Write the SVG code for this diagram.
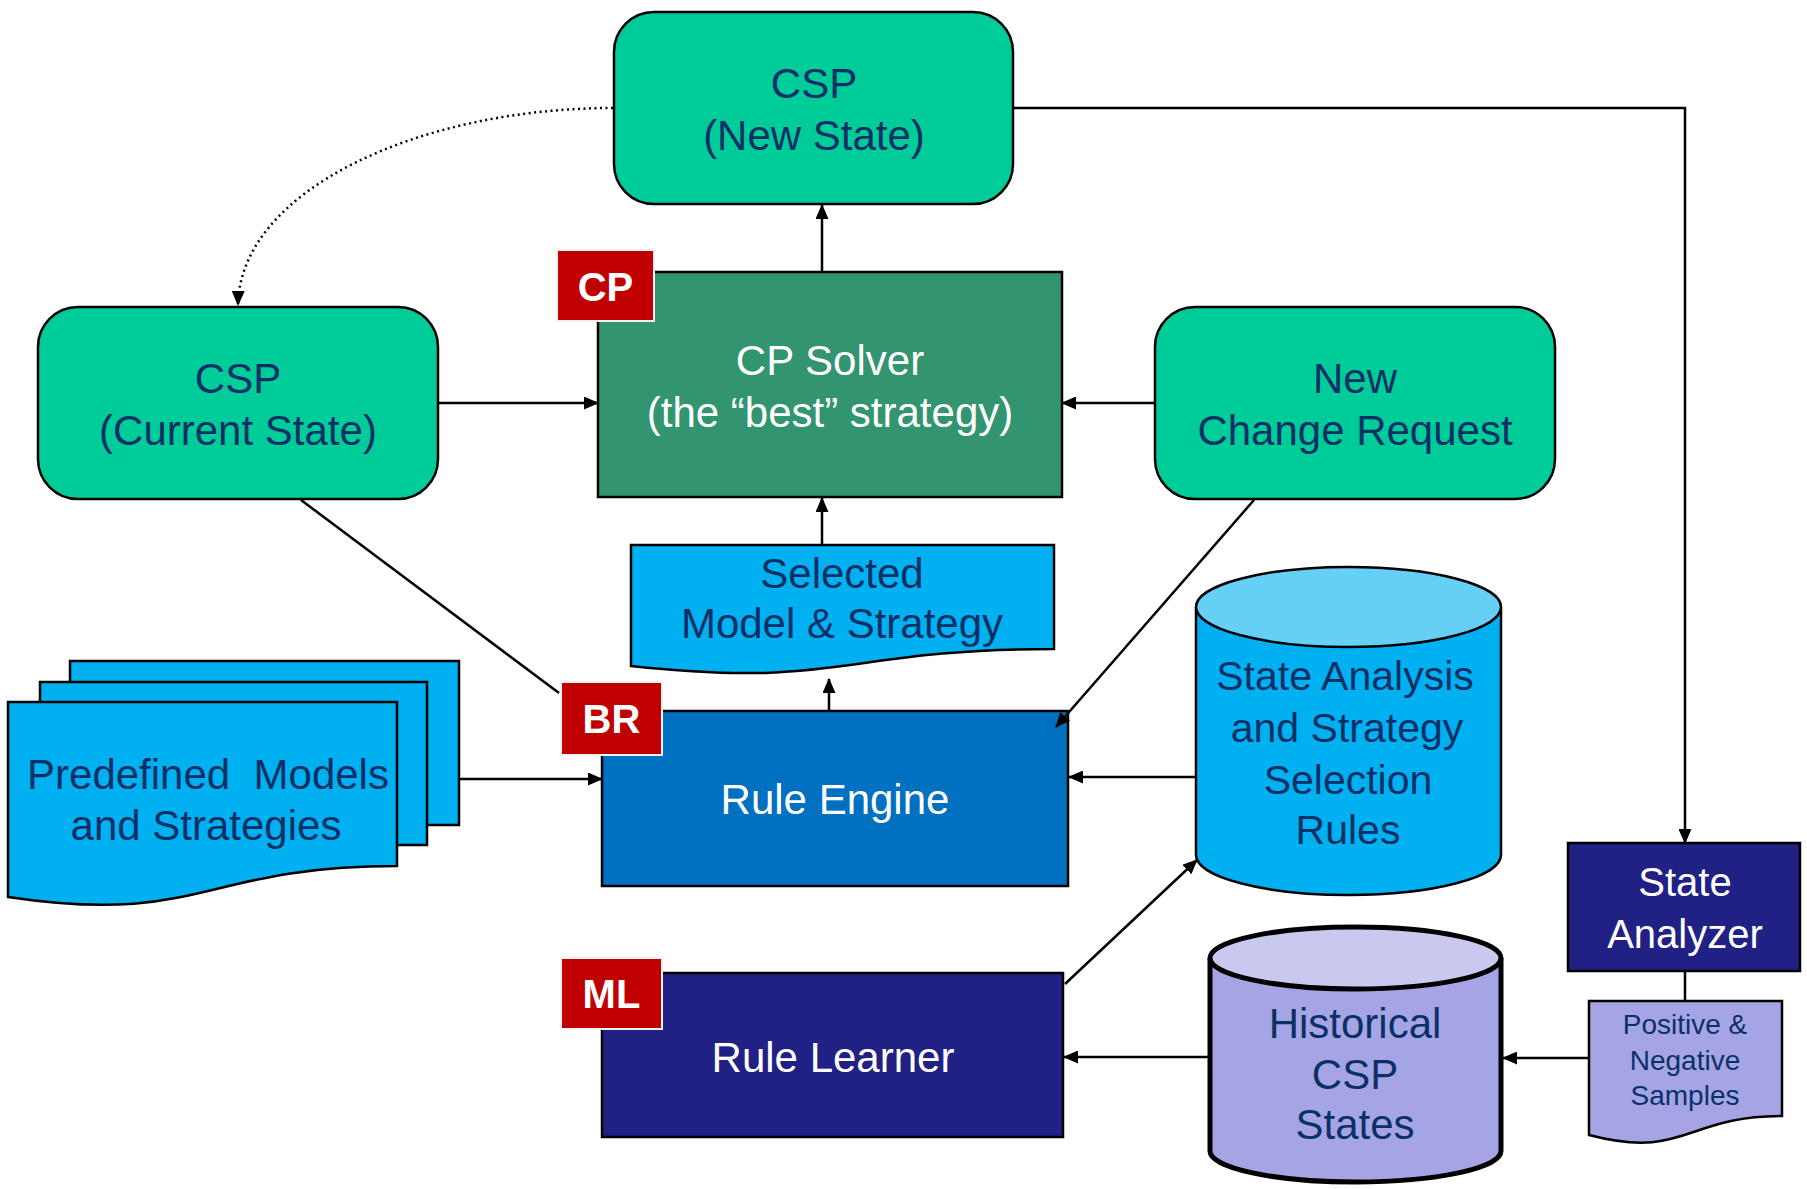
<svg xmlns="http://www.w3.org/2000/svg" width="1807" height="1189" viewBox="0 0 1807 1189">
  <defs>
    <marker id="arrow" markerUnits="userSpaceOnUse" viewBox="0 0 15 13" refX="14" refY="6.5" markerWidth="15" markerHeight="13" orient="auto">
      <path d="M0,0 L15,6.5 L0,13 z" fill="#000"/>
    </marker>
    <style>
      text { font-family: "Liberation Sans", Arial, sans-serif; text-anchor: middle; }
      .dark { fill: #0c3066; font-size: 42px; }
      .light { fill: #ffffff; font-size: 42px; }
      .badge rect { fill: #c00000; stroke: #f2f2f2; stroke-width: 2; }
      .badge text { fill: #ffffff; font-size: 40px; font-weight: bold; }
      .csp { fill: #00cc99; stroke: #000; stroke-width: 2.5; }
      .edge { fill: none; stroke: #000; stroke-width: 2.5; }
    </style>
  </defs>
  <rect width="1807" height="1189" fill="#ffffff"/>

  <!-- CSP (New State) -->
  <g id="csp-new">
    <rect class="csp" x="614" y="12" width="399" height="192" rx="40" ry="40"/>
    <text class="dark" x="814" y="98">CSP</text>
    <text class="dark" x="814" y="150">(New State)</text>
  </g>

  <!-- CSP (Current State) -->
  <g id="csp-current">
    <rect class="csp" x="38" y="307" width="400" height="192" rx="40" ry="40"/>
    <text class="dark" x="238" y="393">CSP</text>
    <text class="dark" x="238" y="445">(Current State)</text>
  </g>

  <!-- New Change Request -->
  <g id="change-request">
    <rect class="csp" x="1155" y="307" width="400" height="192" rx="40" ry="40"/>
    <text class="dark" x="1355" y="393">New</text>
    <text class="dark" x="1355" y="445">Change Request</text>
  </g>

  <!-- CP Solver -->
  <g id="cp-solver">
    <rect x="598" y="272" width="464" height="225" fill="#339470" stroke="#000" stroke-width="2.5"/>
    <text class="light" x="830" y="375">CP Solver</text>
    <text class="light" x="830" y="427">(the “best” strategy)</text>
  </g>
  <g id="badge-cp" class="badge">
    <rect x="557" y="250" width="97" height="71"/>
    <text x="605.5" y="301">CP</text>
  </g>

  <!-- Selected Model & Strategy -->
  <g id="selected-model">
    <path d="M631,545 L1054,545 L1054,649 C842,649 842,689 631,666 Z" fill="#00b0f0" stroke="#000" stroke-width="2.5"/>
    <text class="dark" x="842" y="588">Selected</text>
    <text class="dark" x="842" y="638">Model &amp; Strategy</text>
  </g>

  <!-- Predefined Models and Strategies (stacked documents) -->
  <g id="predefined">
    <rect x="70" y="661" width="389" height="164" fill="#00b0f0" stroke="#000" stroke-width="2.5"/>
    <rect x="40" y="682" width="387" height="163" fill="#00b0f0" stroke="#000" stroke-width="2.5"/>
    <path d="M8,702 L397,702 L397,866 C202,866 202,926 8,897 Z" fill="#00b0f0" stroke="#000" stroke-width="2.5"/>
    <text class="dark" x="208" y="789" xml:space="preserve" style="white-space:pre">Predefined  Models</text>
    <text class="dark" x="206" y="840">and Strategies</text>
  </g>

  <!-- Rule Engine -->
  <g id="rule-engine">
    <rect x="602" y="711" width="466" height="175" fill="#0070c0" stroke="#000" stroke-width="2.5"/>
    <text class="light" x="835" y="814">Rule Engine</text>
  </g>
  <g id="badge-br" class="badge">
    <rect x="561" y="682" width="101" height="73"/>
    <text x="611.5" y="733">BR</text>
  </g>

  <!-- State Analysis and Strategy Selection Rules -->
  <g id="selection-rules">
    <path d="M1196,607 L1196,855 A152.5,40 0 0 0 1501,855 L1501,607" fill="#00b0f0" stroke="#000" stroke-width="2.5"/>
    <ellipse cx="1348.5" cy="607" rx="152.5" ry="40" fill="#66cff5" stroke="#000" stroke-width="2.5"/>
    <text class="dark" x="1345" y="690" style="font-size:41px">State Analysis</text>
    <text class="dark" x="1347" y="742" style="font-size:41px">and Strategy</text>
    <text class="dark" x="1348" y="794" style="font-size:41px">Selection</text>
    <text class="dark" x="1348" y="844" style="font-size:41px">Rules</text>
  </g>

  <!-- Rule Learner -->
  <g id="rule-learner">
    <rect x="602" y="973" width="461" height="164" fill="#212185" stroke="#000" stroke-width="2.5"/>
    <text class="light" x="833" y="1072">Rule Learner</text>
  </g>
  <g id="badge-ml" class="badge">
    <rect x="561" y="958" width="101" height="71"/>
    <text x="611.5" y="1008">ML</text>
  </g>

  <!-- Historical CSP States -->
  <g id="historical">
    <path d="M1210,958 L1210,1151 A145.5,31 0 0 0 1501,1151 L1501,958" fill="#a5a5e6" stroke="#000" stroke-width="5"/>
    <ellipse cx="1355.5" cy="958" rx="145.5" ry="31" fill="#c9c9f0" stroke="#000" stroke-width="5"/>
    <text class="dark" x="1355" y="1038">Historical</text>
    <text class="dark" x="1355" y="1089">CSP</text>
    <text class="dark" x="1355" y="1139">States</text>
  </g>

  <!-- State Analyzer -->
  <g id="state-analyzer">
    <rect x="1568" y="843" width="232" height="128" fill="#212185" stroke="#000" stroke-width="2.5"/>
    <text class="light" x="1685" y="896" style="font-size:40px">State</text>
    <text class="light" x="1685" y="948" style="font-size:40px">Analyzer</text>
  </g>

  <!-- Positive & Negative Samples -->
  <g id="samples">
    <path d="M1589,1001 L1782,1001 L1782,1116 C1685,1116 1685,1160 1589,1135 Z" fill="#a5a5e6" stroke="#000" stroke-width="2.5"/>
    <text class="dark" x="1685" y="1034" style="font-size:28px">Positive &amp;</text>
    <text class="dark" x="1685" y="1070" style="font-size:28px">Negative</text>
    <text class="dark" x="1685" y="1105" style="font-size:28px">Samples</text>
  </g>

  <!-- connectors, drawn last so arrowheads sit over the boxes -->
  <g id="connectors">
    <path class="edge" d="M613,108 C420,108 240,190 238,305" stroke-dasharray="2 3.5" marker-end="url(#arrow)"/>
    <path class="edge" d="M439,403 L598,403" marker-end="url(#arrow)"/>
    <path class="edge" d="M1154,403 L1062,403" marker-end="url(#arrow)"/>
    <path class="edge" d="M822,271 L822,205" marker-end="url(#arrow)"/>
    <path class="edge" d="M822,544 L822,498" marker-end="url(#arrow)"/>
    <path class="edge" d="M829,710 L829,679" marker-end="url(#arrow)"/>
    <path class="edge" d="M301,500 L559,693"/>
    <path class="edge" d="M1254,500 L1056,727" marker-end="url(#arrow)"/>
    <path class="edge" d="M460,779 L602,779" marker-end="url(#arrow)"/>
    <path class="edge" d="M1195,777 L1069,777" marker-end="url(#arrow)"/>
    <path class="edge" d="M1065,984 L1197,860" marker-end="url(#arrow)"/>
    <path class="edge" d="M1014,108 L1685,108 L1685,843" marker-end="url(#arrow)"/>
    <path class="edge" d="M1685,972 L1685,1001"/>
    <path class="edge" d="M1588,1058 L1503,1058" marker-end="url(#arrow)"/>
    <path class="edge" d="M1208,1057 L1064,1057" marker-end="url(#arrow)"/>
  </g>
</svg>
